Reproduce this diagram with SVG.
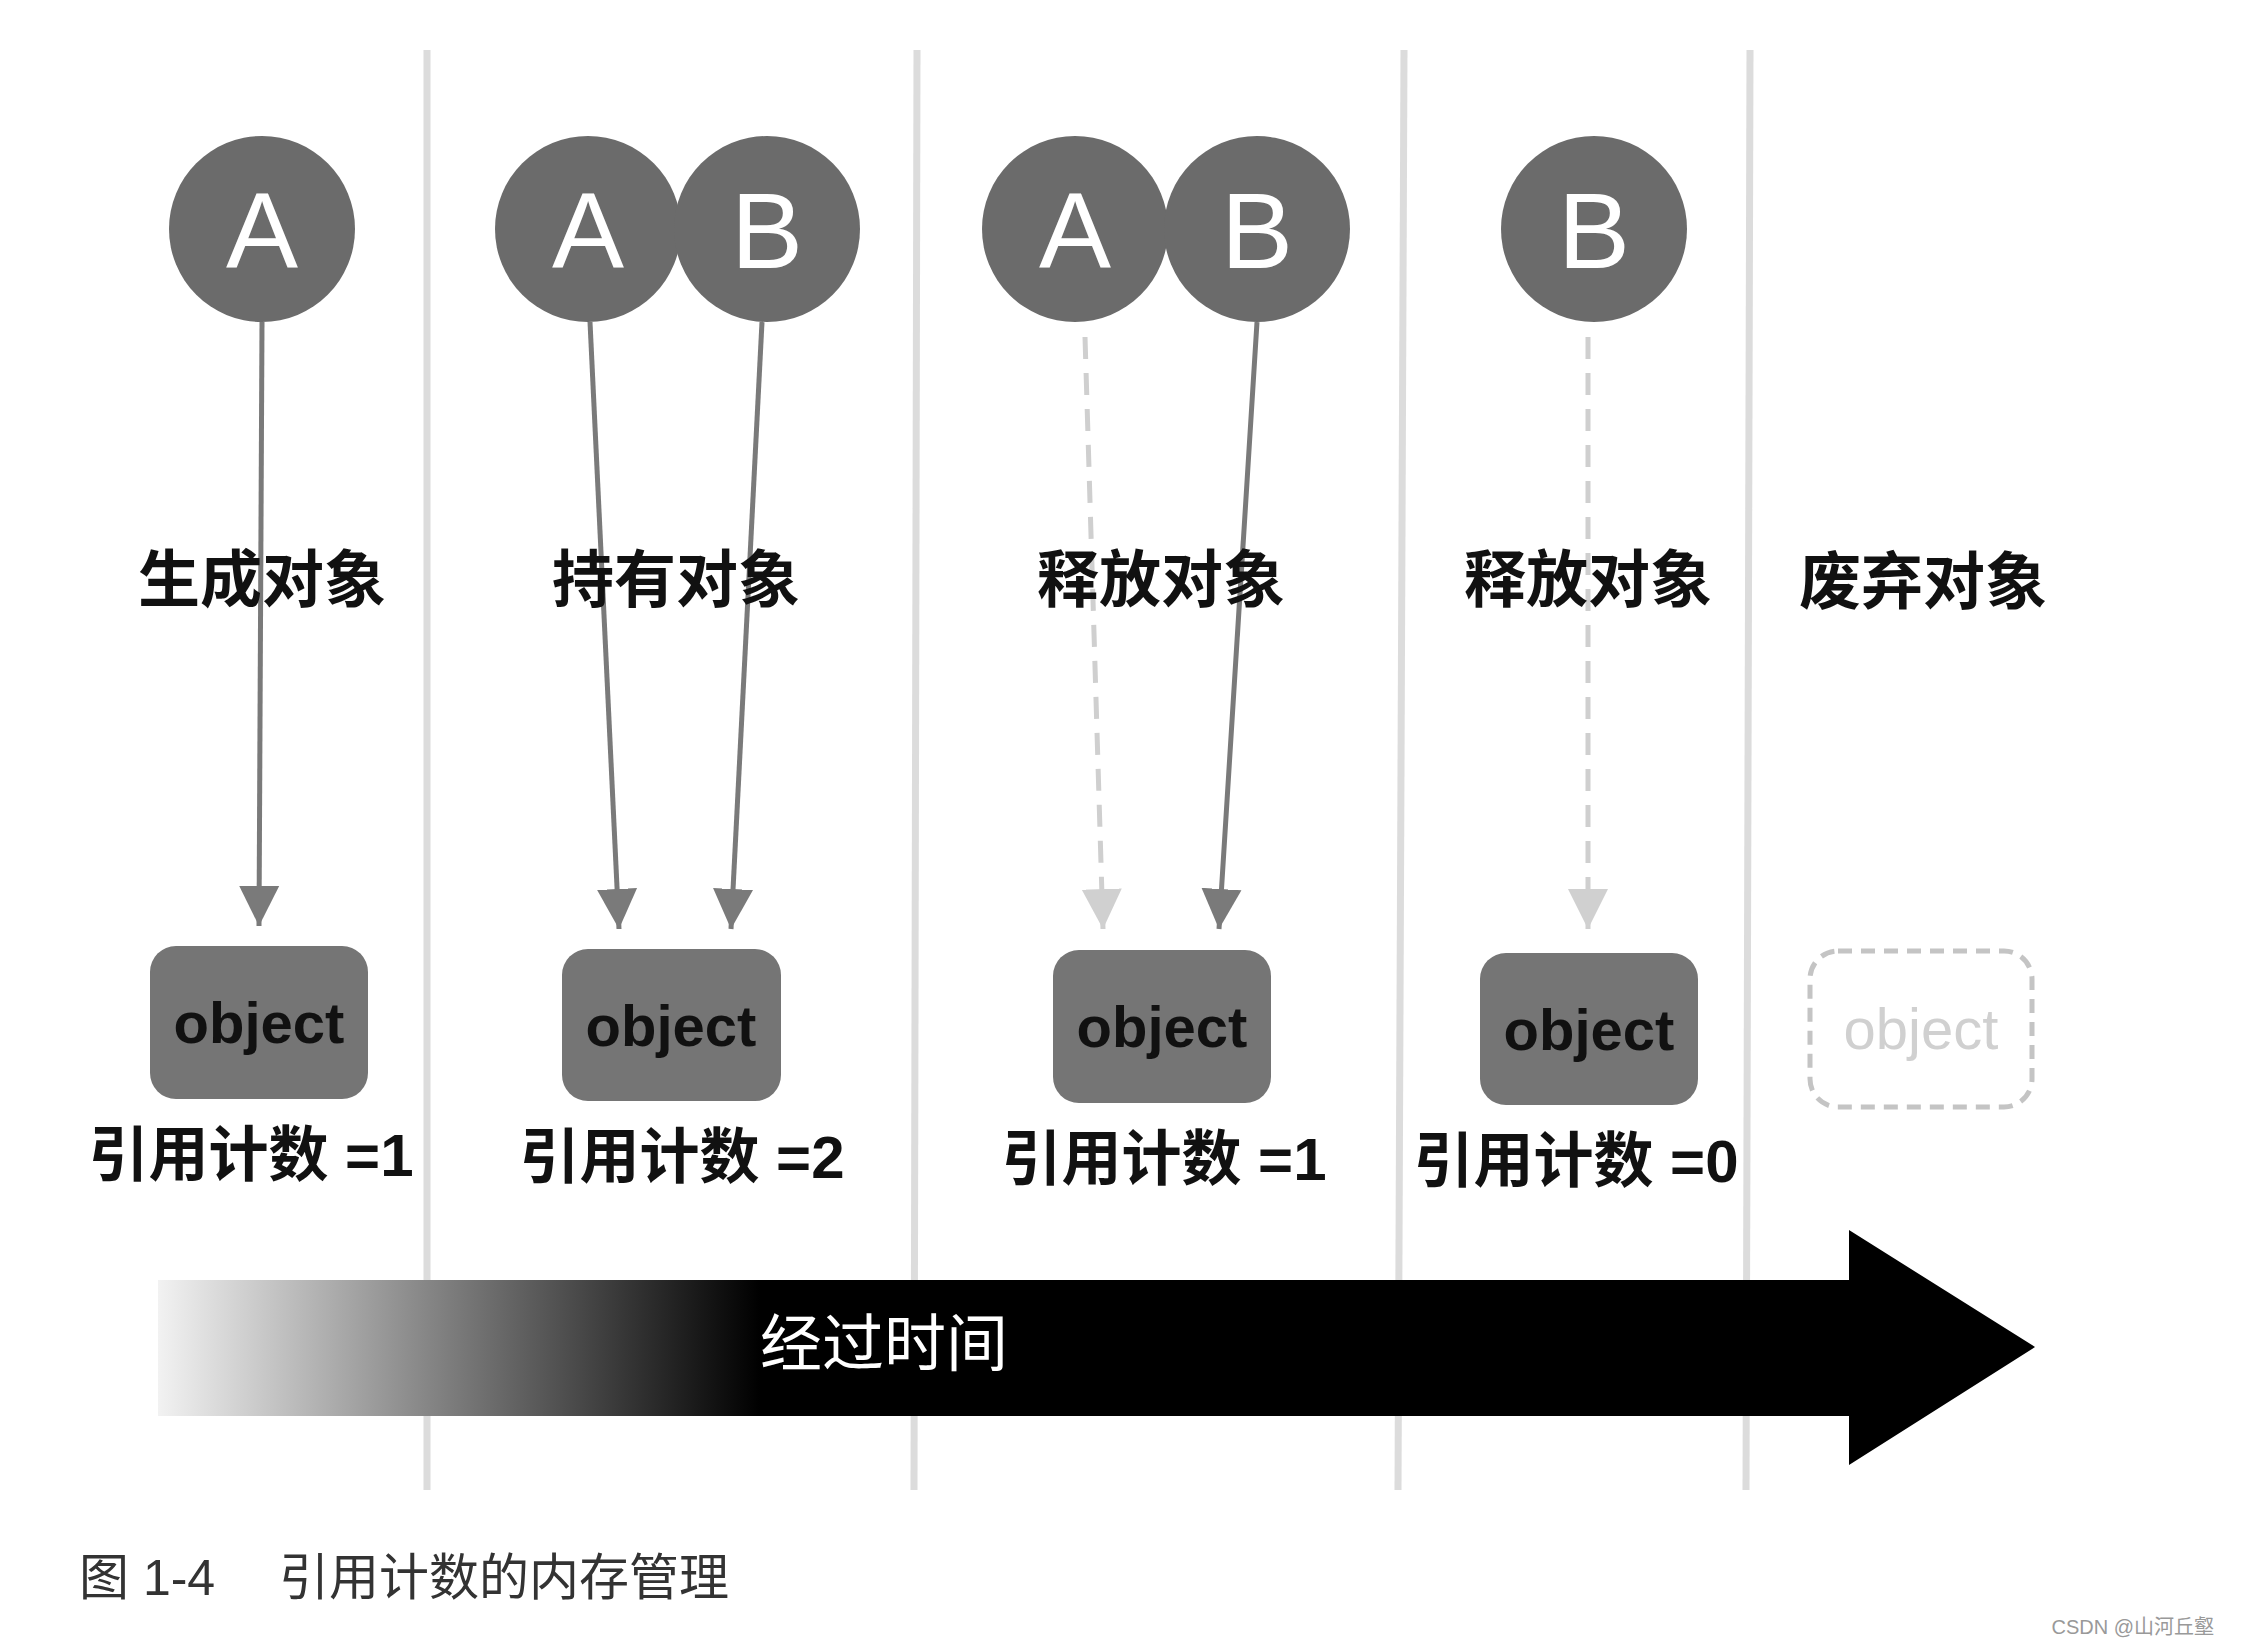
<svg xmlns="http://www.w3.org/2000/svg" width="2246" height="1644" viewBox="0 0 2246 1644">
<style>
text{font-family:"Liberation Sans","Noto Sans CJK SC",sans-serif}
.div{stroke:#dcdcdc;stroke-width:7}
.c{fill:#6b6b6b}
.l{fill:#fff;font-size:108px;text-anchor:middle}
.ln{stroke:#7a7a7a;stroke-width:5;fill:none}
.dl{stroke:#cfcfcf;stroke-width:5;fill:none;stroke-dasharray:22 14}
.t{font-size:62px;font-weight:bold;text-anchor:middle;fill:#111}
.box{fill:#757575}
.o{font-size:58px;text-anchor:middle;fill:#111;font-weight:bold}
.n{font-size:60px;text-anchor:middle;fill:#111;font-weight:bold}
</style>
<defs>
<marker id="ah" viewBox="0 0 10 10" refX="10" refY="5" markerWidth="8" markerHeight="10" markerUnits="strokeWidth" orient="auto"><path d="M0,0L10,5L0,10z" fill="#7a7a7a"/></marker>
<marker id="ahl" viewBox="0 0 10 10" refX="10" refY="5" markerWidth="8" markerHeight="10" markerUnits="strokeWidth" orient="auto"><path d="M0,0L10,5L0,10z" fill="#d0d0d0"/></marker>
<linearGradient id="g" x1="158" y1="0" x2="760" y2="0" gradientUnits="userSpaceOnUse"><stop offset="0" stop-color="#f2f2f2"/><stop offset="1" stop-color="#000"/></linearGradient>
</defs>
<rect width="2246" height="1644" fill="#fff"/>
<g id="dividers">
<line class="div" x1="427" y1="50" x2="427" y2="1490"/>
<line class="div" x1="917" y1="50" x2="914" y2="1490"/>
<line class="div" x1="1404" y1="50" x2="1398" y2="1490"/>
<line class="div" x1="1750" y1="50" x2="1746" y2="1490"/>
</g>
<g id="timeline">
<path d="M158,1280H1849V1230L2035,1347L1849,1465V1416H158Z" fill="url(#g)"/>
<text x="884" y="1366" font-size="62" fill="#fff" text-anchor="middle">经过时间</text>
</g>
<g id="connectors">
<line class="ln" x1="262" y1="322" x2="259" y2="926" marker-end="url(#ah)"/>
<line class="ln" x1="590" y1="322" x2="619" y2="929" marker-end="url(#ah)"/>
<line class="ln" x1="762" y1="322" x2="731" y2="929" marker-end="url(#ah)"/>
<line class="dl" x1="1085" y1="337" x2="1103" y2="929" marker-end="url(#ahl)"/>
<line class="ln" x1="1257" y1="322" x2="1219" y2="929" marker-end="url(#ah)"/>
<line class="dl" x1="1588" y1="337" x2="1588" y2="929" marker-end="url(#ahl)"/>
</g>
<g id="circleA1"><circle class="c" cx="262" cy="229" r="93"/><text class="l" x="262" y="268">A</text></g>
<g id="circleA2"><circle class="c" cx="588" cy="229" r="93"/><text class="l" x="588" y="268">A</text></g>
<g id="circleB2"><circle class="c" cx="767" cy="229" r="93"/><text class="l" x="767" y="268">B</text></g>
<g id="circleA3"><circle class="c" cx="1075" cy="229" r="93"/><text class="l" x="1075" y="268">A</text></g>
<g id="circleB3"><circle class="c" cx="1257" cy="229" r="93"/><text class="l" x="1257" y="268">B</text></g>
<g id="circleB4"><circle class="c" cx="1594" cy="229" r="93"/><text class="l" x="1594" y="268">B</text></g>
<g id="labels">
<text class="t" x="262" y="602">生成对象</text>
<text class="t" x="676" y="602">持有对象</text>
<text class="t" x="1161" y="602">释放对象</text>
<text class="t" x="1588" y="602">释放对象</text>
<text class="t" x="1923" y="604">废弃对象</text>
</g>
<g id="obj1"><rect class="box" x="150" y="946" width="218" height="153" rx="26"/><text class="o" x="259" y="1043">object</text></g>
<g id="obj2"><rect class="box" x="562" y="949" width="219" height="152" rx="26"/><text class="o" x="671" y="1046">object</text></g>
<g id="obj3"><rect class="box" x="1053" y="950" width="218" height="153" rx="26"/><text class="o" x="1162" y="1047">object</text></g>
<g id="obj4"><rect class="box" x="1480" y="953" width="218" height="152" rx="26"/><text class="o" x="1589" y="1050">object</text></g>
<g id="obj5"><rect x="1810" y="951" width="222" height="156" rx="28" fill="none" stroke="#c4c4c4" stroke-width="5" stroke-dasharray="14 9"/><text x="1921" y="1049" font-size="58" text-anchor="middle" fill="#d0d0d0">object</text></g>
<g id="counts">
<text class="n" x="251" y="1176">引用计数 =1</text>
<text class="n" x="682" y="1178">引用计数 =2</text>
<text class="n" x="1164" y="1180">引用计数 =1</text>
<text class="n" x="1576" y="1182">引用计数 =0</text>
</g>
<text x="79" y="1595" font-size="50" fill="#333">图 1-4</text>
<text x="279" y="1595" font-size="50" fill="#333">引用计数的内存管理</text>
<text x="2214" y="1634" font-size="20" fill="#999" text-anchor="end">CSDN @山河丘壑</text>
</svg>
